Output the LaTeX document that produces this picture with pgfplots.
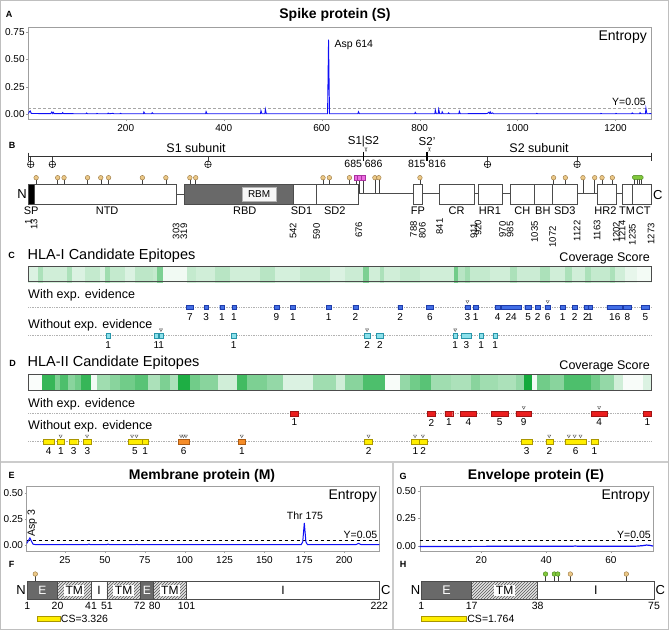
\documentclass[border=0pt]{standalone}
\usepackage{fontspec}
\setmainfont{Liberation Sans}
\newfontfamily\dejavu{DejaVu Sans}
\usepackage{pgfplots}
\pgfplotsset{compat=1.18}
\usetikzlibrary{patterns}
\newcommand{\fs}[1]{\fontsize{#1}{#1}\selectfont}
\definecolor{ebl}{RGB}{66,110,230}
\definecolor{eblb}{RGB}{30,60,170}
\definecolor{ecy}{RGB}{140,225,235}
\definecolor{ecyb}{RGB}{40,150,170}
\definecolor{erd}{RGB}{235,30,30}
\definecolor{erdb}{RGB}{160,20,20}
\definecolor{eye}{RGB}{255,238,0}
\definecolor{eyeb}{RGB}{170,150,0}
\definecolor{eor}{RGB}{245,140,40}
\definecolor{eorb}{RGB}{170,90,20}
\definecolor{tanf}{RGB}{235,200,135}
\definecolor{tand}{RGB}{150,115,60}
\definecolor{pinkf}{RGB}{235,110,225}
\definecolor{pinkd}{RGB}{170,50,160}
\definecolor{grf}{RGB}{130,200,60}
\definecolor{grd}{RGB}{70,130,30}
\definecolor{dgray}{RGB}{105,105,105}
\definecolor{entb}{RGB}{15,15,245}
\pgfplotsset{
 ovl/.style={scale only axis, hide axis, clip=false, y dir=reverse, anchor=north west},
 ent/.style={scale only axis, anchor=north west, axis line style={gray!75}, tick style={gray!75},
   tick align=outside, major tick length=2pt, tick label style={font=\fs{10}},
   /pgf/number format/assume math mode=true, /pgf/number format/1000 sep={}, tick pos=left,
   yticklabel style={inner xsep=1.5pt}},
}
\tikzset{
 t/.style={inner sep=0pt},
 bl/.style={draw=eblb, fill=ebl, line width=0.4pt},
 cy/.style={draw=ecyb, fill=ecy, line width=0.4pt},
 rd/.style={draw=erdb, fill=erd, line width=0.4pt},
 ye/.style={draw=eyeb, fill=eye, line width=0.4pt},
 or/.style={draw=eorb, fill=eor, line width=0.4pt},
 dom/.style={draw=gray!60!black, line width=0.5pt},
 lnk/.style={draw=black!70, line width=0.8pt},
 stem/.style={draw=black!75, line width=0.5pt},
 dl/.style={inner sep=0pt, font=\fs{11}},
 bn/.style={inner sep=0pt, rotate=90, anchor=east, font=\fs{9.5}},
 fn/.style={inner sep=0pt, font=\fs{10.5}},
}
\pgfplotsset{tri/.style={only marks, mark=triangle, mark size=1.8pt, mark options={rotate=180, draw=black!70, line width=0.4pt}}}
\newcommand{\eb}[4]{%
 \edef\tmp{\noexpand\addplot[#4] coordinates {(#1,\yA) (#2,\yA) (#2,\yB) (#1,\yB) (#1,\yA)};}\tmp
 \pgfmathsetmacro{\cx}{(#1+#2)/2}%
 \edef\tmp{\noexpand\node[inner sep=0pt, font=\noexpand\fs{10}] at (axis cs:\cx,\yN) {#3};}\tmp}
\newcommand{\tmbox}[3]{%
 \draw[fill=gray!22, draw=none] (axis cs:#1,581) rectangle (axis cs:#2,599.3);
 \fill[pattern=north east lines, pattern color=gray!70!black] (axis cs:#1,581) rectangle (axis cs:#2,599.3);
 \draw[dom] (axis cs:#1,581) rectangle (axis cs:#2,599.3);
 \node[inner xsep=1.5pt, inner ysep=1.2pt, fill=white, font=\fs{12}] at (axis cs:#3,590.2) {TM};}
\begin{document}
\begin{tikzpicture}
\useasboundingbox (0,0) rectangle (669pt,-630pt);
% ---------------- Panel A
\begin{axis}[ent, at={(28.3pt,-27.3pt)}, width=623pt, height=91.7pt, xmin=1, xmax=1273,
  ymin=-0.046, ymax=0.794, xtick={200,400,...,1200}, ytick={0,0.25,0.5,0.75},
  yticklabels={0.00,0.25,0.50,0.75}]
\addplot[gray!70, densely dashed, line width=0.7pt] coordinates {(1,0.05) (1273,0.05)};
\addplot[entb, line width=0.9pt] coordinates {
(1,0.003) (3,0.02) (5,0.028) (7,0.005) (20,0.004) (47,0.003) (49,0.018) (51,0.004) (52,0.015) (54,0.003)
(70,0.003) (71,0.012) (73,0.003) (119,0.002) (120,0.009) (122,0.002) (140,0.002) (141,0.006) (143,0.002)
(163,0.002) (164,0.008) (166,0.002) (174,0.006) (176,0.002) (188,0.002) (189,0.006) (191,0.002)
(236,0.002) (237,0.018) (239,0.002) (253,0.002) (254,0.012) (256,0.002) (363,0.002) (364,0.022) (366,0.002)
(475,0.002) (476,0.03) (478,0.002) (484,0.002) (485,0.043) (487,0.002) (612,0.002) (614,0.68) (616,0.002)
(674,0.002) (675,0.02) (677,0.002) (790,0.002) (791,0.015) (793,0.002) (831,0.002) (832,0.036) (834,0.002)
(838,0.002) (839,0.043) (841,0.002) (845,0.002) (846,0.02) (848,0.002) (858,0.002) (859,0.01) (861,0.002)
(880,0.002) (881,0.025) (883,0.002) (938,0.004) (941,0.015) (943,0.005) (944,0.02) (946,0.004) (949,0.01)
(951,0.002) (1038,0.002) (1039,0.006) (1041,0.002) (1169,0.002) (1170,0.006) (1172,0.002) (1200,0.002)
(1201,0.006) (1203,0.002) (1233,0.002) (1234,0.01) (1236,0.002) (1249,0.002) (1250,0.012) (1252,0.002)
(1261,0.002) (1262,0.052) (1264,0.002) (1273,0.003)};
\end{axis}
% ---------------- Panels B, C, D (x = residue, y = vertical position)
\begin{axis}[ovl, at={(28.3pt,-130pt)}, width=622.7pt, height=330pt, xmin=1, xmax=1273, ymin=130, ymax=460,
  colormap={wg}{rgb255(0cm)=(255,255,255); rgb255(1cm)=(20,170,60)}, point meta min=0, point meta max=1]
% subunit line
\draw[line width=0.8pt, black!80] (axis cs:1,156.7) -- (axis cs:1273,156.7);
\draw[line width=0.8pt, black!80] (axis cs:1,152.5) -- (axis cs:1,160.5);
\draw[line width=0.8pt, black!80] (axis cs:1273,152.5) -- (axis cs:1273,160.5);
\pgfplotsinvokeforeach{6,50,368,939,1122}{\draw[stem] (axis cs:#1,156.7) -- (axis cs:#1,161);}
\addplot[only marks, mark=oplus*, mark size=3.3pt, mark options={fill=white, draw=black, line width=0.5pt}]
  coordinates {(6,164.3) (50,164.3) (368,164.3) (939,164.3) (1122,164.3)};
\draw[line width=1.3pt, black] (axis cs:685.5,151.5) -- (axis cs:685.5,160.5);
\draw[line width=1.3pt, black] (axis cs:815.5,151.5) -- (axis cs:815.5,160.5);
\node[t, font=\dejavu\fs{6}, rotate=-90] at (axis cs:690,150.5) {✂};
\node[t, font=\dejavu\fs{6}, rotate=-90] at (axis cs:820,150.5) {✂};
\node[t, font=\fs{11.5}] at (axis cs:685.5,141.7) {S1|S2};
\node[t, font=\fs{11.5}] at (axis cs:815.5,141.7) {S2’};
\node[t, font=\fs{10.5}] at (axis cs:685.5,164.3) {685 686};
\node[t, font=\fs{10.5}] at (axis cs:815.5,164.3) {815 816};
% stems of glycans
\pgfplotsinvokeforeach{17,61,74,122,149,165,234,282,331,343,603,616,657,801,1074,1098,1173,1194,671}{\draw[stem] (axis cs:#1,179) -- (axis cs:#1,184.3);}
\pgfplotsinvokeforeach{709,717,1134,1158,678,685}{\draw[stem] (axis cs:#1,179) -- (axis cs:#1,193.5);}
\pgfplotsinvokeforeach{1239,1244,1249,1254}{\draw[stem] (axis cs:#1,179) -- (axis cs:#1,184.3);}
% linkers
\draw[lnk] (axis cs:303,194) -- (axis cs:319,194);
\draw[lnk] (axis cs:676,193.5) -- (axis cs:788,193.5);
\draw[lnk] (axis cs:806,193.5) -- (axis cs:841,193.5);
\draw[lnk] (axis cs:911,193.5) -- (axis cs:920,193.5);
\draw[lnk] (axis cs:970,193.5) -- (axis cs:985,193.5);
\draw[lnk] (axis cs:1122,193.5) -- (axis cs:1163,193.5);
\draw[lnk] (axis cs:1202,193.5) -- (axis cs:1214,193.5);
% domains
\draw[dom, fill=black] (axis cs:1,184.3) rectangle (axis cs:13,204);
\draw[dom, fill=white] (axis cs:13,184.3) rectangle (axis cs:303,204);
\draw[dom, fill=dgray] (axis cs:319,184.3) rectangle (axis cs:542,204);
\draw[draw=gray!60, fill=gray!6] (axis cs:437,186.7) rectangle (axis cs:508,201);
\node[t, font=\fs{10}] at (axis cs:472.5,193.9) {RBM};
\draw[dom, fill=white] (axis cs:542,184.3) rectangle (axis cs:590,204);
\draw[dom, fill=white] (axis cs:590,184.3) rectangle (axis cs:676,204);
\draw[dom, fill=white] (axis cs:788,184.3) rectangle (axis cs:806,204);
\draw[dom, fill=white] (axis cs:841,184.3) rectangle (axis cs:911,204);
\draw[dom, fill=white] (axis cs:920,184.3) rectangle (axis cs:970,204);
\draw[dom, fill=white] (axis cs:985,184.3) rectangle (axis cs:1035,204);
\draw[dom, fill=white] (axis cs:1035,184.3) rectangle (axis cs:1072,204);
\draw[dom, fill=white] (axis cs:1072,184.3) rectangle (axis cs:1122,204);
\draw[dom, fill=white] (axis cs:1163,184.3) rectangle (axis cs:1202,204);
\draw[dom, fill=white] (axis cs:1214,184.3) rectangle (axis cs:1235,204);
\draw[dom, fill=white] (axis cs:1235,184.3) rectangle (axis cs:1273,204);
% glycan heads
\addplot[only marks, mark=*, mark size=2.3pt, mark options={fill=tanf, draw=tand, line width=0.4pt}] coordinates {
(17,177.7) (61,177.7) (74,177.7) (122,177.7) (149,177.7) (165,177.7) (234,177.7) (282,177.7) (331,177.7)
(343,177.7) (603,177.7) (616,177.7) (657,177.7) (709,177.7) (717,177.7) (801,177.7) (1074,177.7)
(1098,177.7) (1134,177.7) (1158,177.7) (1173,177.7) (1194,177.7)};
\addplot[only marks, mark=square*, mark size=2.1pt, mark options={fill=pinkf, draw=pinkd, line width=0.3pt}] coordinates {
(671,177.7) (678,177.7) (685,177.7)};
\draw[fill=grf, draw=grd, line width=0.4pt, rounded corners=1.5pt] (axis cs:1235,175.3) rectangle (axis cs:1257,179.6);
% domain labels
\node[dl] at (axis cs:7,210.5) {SP};
\node[dl] at (axis cs:162,210.5) {NTD};
\node[dl] at (axis cs:443,210.5) {RBD};
\node[dl] at (axis cs:559,210.5) {SD1};
\node[dl] at (axis cs:627,210.5) {SD2};
\node[dl] at (axis cs:797,210.5) {FP};
\node[dl] at (axis cs:876,210.5) {CR};
\node[dl] at (axis cs:944,210.5) {HR1};
\node[dl] at (axis cs:1010,210.5) {CH};
\node[dl] at (axis cs:1052,210.5) {BH};
\node[dl] at (axis cs:1097,210.5) {SD3};
\node[dl] at (axis cs:1180,210.5) {HR2};
\node[dl] at (axis cs:1224,210.5) {TM};
\node[dl] at (axis cs:1257,210.5) {CT};
% boundary numbers
\node[bn, xshift=1.2pt] at (axis cs:1,220) {1};
\node[bn, xshift=1.3pt] at (axis cs:13,220) {13};
\node[bn, xshift=-3.2pt] at (axis cs:303,220) {303};
\node[bn, xshift=-3.5pt] at (axis cs:319,220) {319};
\node[bn, xshift=-2.8pt] at (axis cs:542,220) {542};
\node[bn, xshift=-3.3pt] at (axis cs:590,220) {590};
\node[bn, xshift=-1.9pt] at (axis cs:676,220) {676};
\node[bn, xshift=-1pt] at (axis cs:788,220) {788};
\node[bn, xshift=-2.3pt] at (axis cs:806,220) {806};
\node[bn, xshift=1.6pt] at (axis cs:841,220) {841};
\node[bn, xshift=-3.4pt] at (axis cs:911,220) {911};
\node[bn, xshift=0.2pt] at (axis cs:920,220) {920};
\node[bn, xshift=-1.4pt] at (axis cs:970,220) {970};
\node[bn, xshift=-1.3pt] at (axis cs:985,220) {985};
\node[bn, xshift=-1.1pt] at (axis cs:1035,220) {1035};
\node[bn, xshift=-6pt] at (axis cs:1072,220) {1072};
\node[bn, xshift=-0.5pt] at (axis cs:1122,220) {1122};
\node[bn] at (axis cs:1163,220) {1163};
\node[bn, xshift=-1.6pt] at (axis cs:1202,220) {1202};
\node[bn, xshift=-0.5pt] at (axis cs:1214,220) {1214};
\node[bn, xshift=-3.8pt] at (axis cs:1235,220) {1235};
\node[bn, xshift=-3pt] at (axis cs:1273,220) {1273};
% ---- C heatmap (HLA-I coverage)
\addplot[surf, shader=flat corner, mesh/rows=2, point meta=explicit] table[x=x, y=y, meta=c] {
x y c
1 266 0.15
21 266 0.35
31 266 0.2
80 266 0.35
90 266 0.15
117 266 0.25
148 266 0.15
158 266 0.4
168 266 0.25
199 266 0.15
219 266 0.28
256 266 0.25
264 266 0.55
276 266 0.06
326 266 0.25
343 266 0.2
383 266 0.3
414 266 0.2
475 266 0.3
506 266 0.18
557 266 0.25
618 266 0.15
649 266 0.22
686 266 0.55
698 266 0.2
720 266 0.35
727 266 0.2
761 266 0.25
802 266 0.2
870 266 0.6
880 266 0.3
894 266 0.4
904 266 0.25
945 266 0.2
986 266 0.35
1000 266 0.22
1047 266 0.35
1067 266 0.2
1098 266 0.35
1113 266 0.2
1139 266 0.35
1150 266 0.25
1190 266 0.35
1200 266 0.2
1221 266 0.1
1245 266 0.05
1273 266 0.05
1 281.7 0.15
21 281.7 0.35
31 281.7 0.2
80 281.7 0.35
90 281.7 0.15
117 281.7 0.25
148 281.7 0.15
158 281.7 0.4
168 281.7 0.25
199 281.7 0.15
219 281.7 0.28
256 281.7 0.25
264 281.7 0.55
276 281.7 0.06
326 281.7 0.25
343 281.7 0.2
383 281.7 0.3
414 281.7 0.2
475 281.7 0.3
506 281.7 0.18
557 281.7 0.25
618 281.7 0.15
649 281.7 0.22
686 281.7 0.55
698 281.7 0.2
720 281.7 0.35
727 281.7 0.2
761 281.7 0.25
802 281.7 0.2
870 281.7 0.6
880 281.7 0.3
894 281.7 0.4
904 281.7 0.25
945 281.7 0.2
986 281.7 0.35
1000 281.7 0.22
1047 281.7 0.35
1067 281.7 0.2
1098 281.7 0.35
1113 281.7 0.2
1139 281.7 0.35
1150 281.7 0.25
1190 281.7 0.35
1200 281.7 0.2
1221 281.7 0.1
1245 281.7 0.05
1273 281.7 0.05
};
\draw[draw=gray!60!black, line width=0.6pt] (axis cs:1,266) rectangle (axis cs:1273,281.7);
% ---- D heatmap (HLA-II coverage)
\addplot[surf, shader=flat corner, mesh/rows=2, point meta=explicit] table[x=x, y=y, meta=c] {
x y c
1 374.3 0.02
30 374.3 0.85
56 374.3 0.55
66 374.3 0.75
83 374.3 0.5
96 374.3 0.6
110 374.3 0.85
129 374.3 0.05
141 374.3 0.4
168 374.3 0.5
189 374.3 0.6
219 374.3 0.7
246 374.3 0.35
270 374.3 0.55
291 374.3 0.35
307 374.3 0.95
332 374.3 0.6
352 374.3 0.5
389 374.3 0.2
427 374.3 0.8
448 374.3 0.55
489 374.3 0.45
522 374.3 0.15
583 374.3 0.4
630 374.3 0.2
649 374.3 0.5
686 374.3 0.75
731 374.3 0.03
761 374.3 0.45
782 374.3 0.6
802 374.3 0.7
823 374.3 0.4
864 374.3 0.35
905 374.3 0.5
925 374.3 0.4
960 374.3 0.35
997 374.3 0.45
1013 374.3 1.0
1031 374.3 0.05
1041 374.3 0.6
1068 374.3 0.5
1095 374.3 0.75
1150 374.3 0.6
1170 374.3 0.45
1197 374.3 0.2
1217 374.3 0.03
1258 374.3 0.15
1273 374.3 0.15
1 390 0.02
30 390 0.85
56 390 0.55
66 390 0.75
83 390 0.5
96 390 0.6
110 390 0.85
129 390 0.05
141 390 0.4
168 390 0.5
189 390 0.6
219 390 0.7
246 390 0.35
270 390 0.55
291 390 0.35
307 390 0.95
332 390 0.6
352 390 0.5
389 390 0.2
427 390 0.8
448 390 0.55
489 390 0.45
522 390 0.15
583 390 0.4
630 390 0.2
649 390 0.5
686 390 0.75
731 390 0.03
761 390 0.45
782 390 0.6
802 390 0.7
823 390 0.4
864 390 0.35
905 390 0.5
925 390 0.4
960 390 0.35
997 390 0.45
1013 390 1.0
1031 390 0.05
1041 390 0.6
1068 390 0.5
1095 390 0.75
1150 390 0.6
1170 390 0.45
1197 390 0.2
1217 390 0.03
1258 390 0.15
1273 390 0.15
};
\draw[draw=gray!60!black, line width=0.6pt] (axis cs:1,374.3) rectangle (axis cs:1273,390);
% dotted guide lines
\draw[gray!60, densely dotted, line width=0.7pt] (axis cs:1,307.2) -- (axis cs:1273,307.2);
\draw[gray!60, densely dotted, line width=0.7pt] (axis cs:1,335.8) -- (axis cs:1273,335.8);
\draw[gray!60, densely dotted, line width=0.7pt] (axis cs:1,413.5) -- (axis cs:1273,413.5);
\draw[gray!60, densely dotted, line width=0.7pt] (axis cs:1,441.8) -- (axis cs:1273,441.8);
% C: with exp. evidence
\def\yA{305}\def\yB{309.5}\def\yN{316.9}
\eb{324}{338}{7}{bl}\eb{360}{369}{3}{bl}\eb{392}{401}{1}{bl}\eb{417}{425}{1}{bl}
\eb{503}{513}{9}{bl}\eb{537}{546}{1}{bl}\eb{610}{619}{1}{bl}\eb{664}{674}{2}{bl}
\eb{756}{765}{2}{bl}\eb{814}{829}{6}{bl}\eb{893}{903}{3}{bl}\eb{910}{920}{1}{bl}
\eb{954}{965}{4}{bl}\eb{967}{1008}{24}{bl}\eb{1015}{1029}{5}{bl}\eb{1037}{1046}{2}{bl}
\eb{1056}{1068}{6}{bl}\eb{1088}{1097}{1}{bl}\eb{1112}{1122}{2}{bl}\eb{1136}{1144}{2}{bl}
\eb{1144}{1153}{1}{bl}\eb{1183}{1215}{16}{bl}\eb{1217}{1233}{8}{bl}\eb{1253}{1270}{5}{bl}
\addplot[tri] coordinates {(898,301.4) (1062,301.4)};
% C: without exp. evidence
\def\yA{333.3}\def\yB{338.3}\def\yN{344.6}
\eb{160}{168}{1}{cy}\eb{258}{267}{1}{cy}\eb{268}{277}{1}{cy}\eb{416}{425}{1}{cy}
\eb{687}{699}{2}{cy}\eb{712}{726}{2}{cy}\eb{869}{877}{1}{cy}\eb{886}{906}{3}{cy}
\eb{922}{930}{1}{cy}\eb{950}{959}{1}{cy}
\addplot[tri] coordinates {(272,329.7) (693,329.7) (873,329.7)};
% D: with exp. evidence
\def\yA{411}\def\yB{416}\def\yN{422.5}
\eb{537}{552}{1}{rd}\eb{816}{833}{2}{rd}\eb{852}{868}{1}{rd}\eb{884}{916}{4}{rd}
\eb{947}{981}{5}{rd}\eb{997}{1029}{9}{rd}\eb{1151}{1183}{4}{rd}\eb{1258}{1273}{1}{rd}
\addplot[tri] coordinates {(1013,407.4) (1167,407.4)};
% D: without exp. evidence
\def\yA{439.3}\def\yB{444.3}\def\yN{450.9}
\eb{32}{53}{4}{ye}\eb{60}{75}{1}{ye}\eb{85}{102}{3}{ye}\eb{113}{130}{3}{ye}
\eb{205}{233}{5}{ye}\eb{233}{246}{1}{ye}\eb{307}{330}{6}{or}\eb{430}{445}{1}{or}
\eb{688}{704}{2}{ye}\eb{784}{799}{1}{ye}\eb{799}{816}{2}{ye}\eb{1008}{1030}{3}{ye}
\eb{1058}{1073}{2}{ye}\eb{1097}{1141}{6}{ye}\eb{1150}{1165}{1}{ye}
\addplot[tri] coordinates {(67,435.9) (121,435.9) (213,435.9) (222,435.9) (313,435.9) (318,435.9)
 (323,435.9) (437,435.9) (696,435.9) (791,435.9) (807,435.9) (1065,435.9) (1105,435.9) (1117,435.9) (1129,435.9)};
\end{axis}
% ---------------- Panel E
\begin{axis}[ent, at={(26.7pt,-486pt)}, width=352.6pt, height=65pt, xmin=1, xmax=222,
  ymin=-0.057, ymax=0.564, xtick={25,50,...,200}, ytick={0,0.25,0.5}, yticklabels={0.00,0.25,0.50}]
\addplot[black, dashed, line width=0.5pt] coordinates {(1,0.05) (222,0.05)};
\addplot[entb, line width=1pt] coordinates {
(1,0.015) (2,0.04) (3,0.068) (4,0.035) (5,0.008) (7,0.003) (24,0.003) (25,0.006) (26,0.003)
(39,0.003) (40,0.009) (41,0.003) (51,0.003) (52,0.009) (53,0.003) (69,0.003) (70,0.007) (71,0.003)
(157,0.003) (158,0.005) (159,0.003) (173,0.003) (174,0.03) (175,0.212) (176,0.03) (177,0.003)
(207,0.003) (208,0.008) (209,0.016) (210,0.008) (211,0.003) (222,0.003)};
\end{axis}
% ---------------- Panel F
\begin{axis}[ovl, at={(27.3pt,-560pt)}, width=352pt, height=65pt, xmin=1, xmax=222, ymin=560, ymax=625]
\draw[stem] (axis cs:6,576) -- (axis cs:6,581);
\draw[dom, fill=dgray] (axis cs:1,581) rectangle (axis cs:20,599.3);
\node[t, text=white, font=\fs{12}] at (axis cs:10.5,590.2) {E};
\tmbox{20}{41}{30.5}
\draw[dom, fill=white] (axis cs:41,581) rectangle (axis cs:51,599.3);
\node[t, font=\fs{12}] at (axis cs:46,590.2) {I};
\tmbox{51}{72}{61.5}
\draw[dom, fill=dgray] (axis cs:72,581) rectangle (axis cs:80,599.3);
\node[t, text=white, font=\fs{12}] at (axis cs:76,590.2) {E};
\tmbox{80}{101}{90.5}
\draw[dom, fill=white] (axis cs:101,581) rectangle (axis cs:222,599.3);
\node[t, font=\fs{12}] at (axis cs:161.5,590.2) {I};
\addplot[only marks, mark=*, mark size=2.3pt, mark options={fill=tanf, draw=tand, line width=0.4pt}] coordinates {(6,574)};
\node[fn] at (axis cs:1,606) {1};
\node[fn] at (axis cs:20,606) {20};
\node[fn] at (axis cs:41,606) {41};
\node[fn] at (axis cs:51,606) {51};
\node[fn] at (axis cs:71.5,606) {72};
\node[fn] at (axis cs:81,606) {80};
\node[fn] at (axis cs:101,606) {101};
\node[fn] at (axis cs:222,606) {222};
\draw[draw=eyeb, fill=eye, line width=0.4pt] (axis cs:7,616.3) rectangle (axis cs:21.5,621.6);
\node[t, anchor=west, font=\fs{10.5}] at (axis cs:22,619) {CS=3.326};
\end{axis}
% ---------------- Panel G
\begin{axis}[ent, at={(419.7pt,-486pt)}, width=233.3pt, height=65pt, xmin=1, xmax=73,
  ymin=-0.045, ymax=0.5425, xtick={20,40,60}, ytick={0,0.25,0.5}, yticklabels={0.00,0.25,0.50}]
\addplot[black, dashed, line width=0.5pt] coordinates {(1,0.05) (73,0.05)};
\addplot[entb, line width=1.2pt] coordinates {
(1,-0.004) (10,-0.004) (20,-0.003) (30,-0.002) (31,-0.001) (32,-0.002) (40,-0.002) (48,-0.002)
(49,0.0) (50,-0.002) (60,-0.002) (68,-0.001) (70,0.004) (71,0.009) (72,0.006) (73,0.0)};
\end{axis}
% ---------------- Panel H
\begin{axis}[ovl, at={(421.3pt,-560pt)}, width=232.7pt, height=65pt, xmin=1, xmax=75, ymin=560, ymax=625]
\pgfplotsinvokeforeach{40.5,43.3,44.4,48.4,66.2}{\draw[stem] (axis cs:#1,576) -- (axis cs:#1,581);}
\draw[dom, fill=dgray] (axis cs:1,581) rectangle (axis cs:17,599.3);
\node[t, text=white, font=\fs{12.5}] at (axis cs:9,590.2) {E};
\tmbox{17}{38}{27.5}
\draw[dom, fill=white] (axis cs:38,581) rectangle (axis cs:75,599.3);
\node[t, font=\fs{12.5}] at (axis cs:56.5,590.2) {I};
\addplot[only marks, mark=*, mark size=2.3pt, mark options={fill=grf, draw=grd, line width=0.4pt}] coordinates {(40.5,574) (43.3,574) (44.4,574)};
\addplot[only marks, mark=*, mark size=2.3pt, mark options={fill=tanf, draw=tand, line width=0.4pt}] coordinates {(48.4,574) (66.2,574)};
\node[fn] at (axis cs:1,606) {1};
\node[fn] at (axis cs:17,606) {17};
\node[fn] at (axis cs:38,606) {38};
\node[fn] at (axis cs:75,606) {75};
\draw[draw=eyeb, fill=eye, line width=0.4pt] (axis cs:1,616.3) rectangle (axis cs:15.3,621.6);
\node[t, anchor=west, font=\fs{10.5}] at (axis cs:15.6,619) {CS=1.764};
\end{axis}
% ---------------- texts
\node[t, font=\bfseries\fs{9}] at (9pt,-14pt) {A};
\node[t, font=\bfseries\fs{14}] at (335pt,-15pt) {Spike protein (S)};
\node[t, anchor=east, font=\fs{14}] at (647pt,-37pt) {Entropy};
\node[t, anchor=east, font=\fs{10.5}] at (646pt,-101.7pt) {Y=0.05};
\node[t, anchor=west, font=\fs{10.5}] at (334.3pt,-45pt) {Asp 614};
\node[t, font=\bfseries\fs{9}] at (12pt,-145pt) {B};
\node[t, font=\fs{12.5}] at (196pt,-148pt) {S1 subunit};
\node[t, font=\fs{12.5}] at (539pt,-148pt) {S2 subunit};
\node[t, anchor=east, font=\fs{13}] at (27pt,-194pt) {N};
\node[t, anchor=west, font=\fs{13}] at (653pt,-195pt) {C};
\node[t, font=\bfseries\fs{9}] at (11.7pt,-255.7pt) {C};
\node[t, anchor=west, font=\fs{14.5}] at (27.5pt,-255.5pt) {HLA-I Candidate Epitopes};
\node[t, anchor=east, font=\fs{12.5}] at (650pt,-258.3pt) {Coverage Score};
\node[t, anchor=west, font=\fs{12.5}] at (28pt,-295.7pt) {With exp. evidence};
\node[t, anchor=west, font=\fs{12.5}] at (28pt,-325.7pt) {Without exp. evidence};
\node[t, font=\bfseries\fs{9}] at (12.7pt,-363.3pt) {D};
\node[t, anchor=west, font=\fs{14.5}] at (27.5pt,-362.7pt) {HLA-II Candidate Epitopes};
\node[t, anchor=east, font=\fs{12.5}] at (650pt,-366.7pt) {Coverage Score};
\node[t, anchor=west, font=\fs{12.5}] at (28pt,-404.3pt) {With exp. evidence};
\node[t, anchor=west, font=\fs{12.5}] at (28pt,-426.7pt) {Without exp. evidence};
% lower panels
\node[t, font=\bfseries\fs{9}] at (11.7pt,-475pt) {E};
\node[t, font=\bfseries\fs{14}] at (202pt,-476pt) {Membrane protein (M)};
\node[t, anchor=east, font=\fs{14}] at (377pt,-496pt) {Entropy};
\node[t, font=\fs{10.5}] at (305pt,-516pt) {Thr 175};
\node[t, rotate=90, font=\fs{10.5}] at (32.3pt,-523pt) {Asp 3};
\node[t, anchor=east, font=\fs{10.5}] at (377.5pt,-535pt) {Y=0.05};
\node[t, font=\bfseries\fs{9}] at (11.7pt,-564pt) {F};
\node[t, anchor=east, font=\fs{13}] at (26pt,-590pt) {N};
\node[t, anchor=west, font=\fs{13}] at (381pt,-590pt) {C};
\node[t, font=\bfseries\fs{9}] at (403pt,-476pt) {G};
\node[t, font=\bfseries\fs{14}] at (536pt,-476pt) {Envelope protein (E)};
\node[t, anchor=east, font=\fs{14}] at (650pt,-496pt) {Entropy};
\node[t, anchor=east, font=\fs{10.5}] at (651pt,-535pt) {Y=0.05};
\node[t, font=\bfseries\fs{9}] at (403pt,-564.3pt) {H};
\node[t, anchor=east, font=\fs{13}] at (420.5pt,-590pt) {N};
\node[t, anchor=west, font=\fs{13}] at (655.5pt,-590pt) {C};
% frame and dividers
\draw[gray!40, line width=1.5pt] (0pt,-462pt) -- (669pt,-462pt);
\draw[gray!40, line width=1.5pt] (393pt,-462pt) -- (393pt,-630pt);
\draw[gray!50, line width=1pt] (0.5pt,-0.5pt) rectangle (668.5pt,-629.5pt);
\end{tikzpicture}
\end{document}
